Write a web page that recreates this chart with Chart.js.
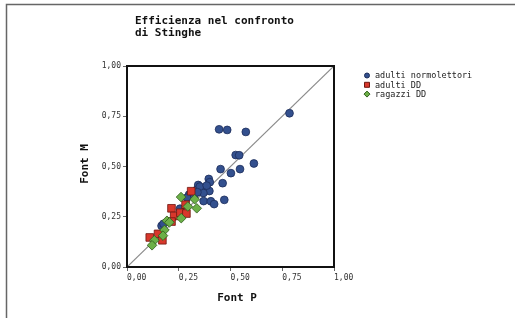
<!DOCTYPE html>
<html>
<head>
<meta charset="utf-8">
<script src="https://cdn.jsdelivr.net/npm/chart.js@4/dist/chart.umd.min.js"></script>
<style>
  html, body { margin: 0; padding: 0; background: #fff; }
  canvas { display: block; }
</style>
</head>
<body>
<canvas id="chart" width="515" height="318"></canvas>
<script>
const titleLines = ['Efficienza nel confronto', 'di Stinghe'];
const xTitle = 'Font P';
const yTitle = 'Font M';
const tickValues = [0, 0.25, 0.5, 0.75, 1];

const seriesNames = ['adulti normolettori', 'adulti DD', 'ragazzi DD'];

// adulti normolettori
const normX = [0.785, 0.445, 0.484, 0.574, 0.525, 0.542, 0.613, 0.452, 0.502, 0.546,
               0.462, 0.395, 0.400, 0.344, 0.358, 0.337, 0.382, 0.398, 0.369, 0.300,
               0.324, 0.470, 0.370, 0.405, 0.421, 0.256, 0.167, 0.352, 0.290, 0.176,
               0.340, 0.385];
const normY = [0.765, 0.685, 0.682, 0.672, 0.557, 0.556, 0.515, 0.487, 0.467, 0.487,
               0.417, 0.438, 0.422, 0.408, 0.395, 0.384, 0.386, 0.378, 0.368, 0.360,
               0.350, 0.334, 0.328, 0.327, 0.313, 0.290, 0.205, 0.400, 0.345, 0.215,
               0.372, 0.405];

// adulti DD
const ddAdX = [0.310, 0.215, 0.283, 0.228, 0.258, 0.287, 0.215, 0.110, 0.150, 0.171];
const ddAdY = [0.377, 0.292, 0.310, 0.254, 0.270, 0.266, 0.226, 0.147, 0.165, 0.133];

// ragazzi DD
const ddRgX = [0.261, 0.327, 0.337, 0.294, 0.262, 0.193, 0.181, 0.174, 0.132, 0.121, 0.205];
const ddRgY = [0.348, 0.337, 0.292, 0.301, 0.243, 0.230, 0.184, 0.156, 0.133, 0.108, 0.222];

// bisettrice
const refX = [0, 1];
const refY = [0, 1];

const toPoints = (xs, ys) => xs.map((x, i) => ({ x, y: ys[i] }));
const fmt = v => v.toFixed(2).replace('.', ',');

const MONO = "'DejaVu Sans Mono', monospace";

const series = [
  { style: 'circle',  radius: 3.9, fill: '#33508e', stroke: '#1d2d5a' },
  { style: 'rect',    radius: 5.4, fill: '#d8382c', stroke: '#6e1710' },
  { style: 'rectRot', radius: 4.8, fill: '#6cb048', stroke: '#2f5c1b' }
];

const extras = {
  id: 'extras',
  afterDraw(chart) {
    const ctx = chart.ctx;
    const a = chart.chartArea;
    ctx.save();

    // outer frame
    ctx.strokeStyle = '#666';
    ctx.lineWidth = 1.5;
    ctx.beginPath();
    ctx.moveTo(6.5, 318);
    ctx.lineTo(6.5, 4.5);
    ctx.lineTo(515, 4.5);
    ctx.stroke();

    // plot box
    ctx.strokeStyle = '#111';
    ctx.lineWidth = 2;
    ctx.strokeRect(a.left, a.top, a.right - a.left, a.bottom - a.top);

    // title
    ctx.fillStyle = '#111';
    ctx.font = 'bold 11px ' + MONO;
    ctx.textAlign = 'left';
    ctx.textBaseline = 'middle';
    titleLines.forEach((t, i) => ctx.fillText(t, 135, 21 + i * 12.5));

    // axis titles
    ctx.textAlign = 'center';
    ctx.fillText(xTitle, 237, 298);
    ctx.save();
    ctx.translate(85, 164);
    ctx.rotate(-Math.PI / 2);
    ctx.fillText(yTitle, 0, 0);
    ctx.restore();

    // legend
    ctx.font = '8.5px ' + MONO;
    ctx.textAlign = 'left';
    seriesNames.forEach((name, i) => {
      const y = 75.5 + i * 9.3;
      const x = 367;
      const s = series[i];
      ctx.fillStyle = s.fill;
      ctx.strokeStyle = s.stroke;
      ctx.lineWidth = 1;
      ctx.beginPath();
      if (s.style === 'circle') {
        ctx.arc(x, y, 2.5, 0, Math.PI * 2);
      } else if (s.style === 'rect') {
        ctx.rect(x - 2.5, y - 2.5, 5, 5);
      } else {
        ctx.moveTo(x, y - 3); ctx.lineTo(x + 3, y); ctx.lineTo(x, y + 3); ctx.lineTo(x - 3, y); ctx.closePath();
      }
      ctx.fill();
      ctx.stroke();
      ctx.fillStyle = '#222';
      ctx.fillText(name, 375, y + 0.5);
    });

    ctx.restore();
  }
};

const scatterSet = (label, xs, ys, s, order) => ({
  type: 'scatter',
  label,
  data: toPoints(xs, ys),
  pointStyle: s.style,
  pointRadius: s.radius,
  pointHoverRadius: s.radius,
  backgroundColor: s.fill,
  borderColor: s.stroke,
  borderWidth: 0.8,
  order
});

const axisCommon = {
  type: 'linear',
  min: 0,
  max: 1,
  afterBuildTicks: scale => { scale.ticks = tickValues.map(v => ({ value: v })); },
  grid: { drawOnChartArea: false, drawTicks: true, tickLength: 4, color: '#666', lineWidth: 1 },
  border: { display: false }
};

new Chart(document.getElementById('chart'), {
  type: 'scatter',
  data: {
    datasets: [
      scatterSet(seriesNames[0], normX, normY, series[0], 3),
      scatterSet(seriesNames[1], ddAdX, ddAdY, series[1], 2),
      scatterSet(seriesNames[2], ddRgX, ddRgY, series[2], 1),
      {
        type: 'line',
        label: 'bisettrice',
        data: toPoints(refX, refY),
        borderColor: '#8a8a8a',
        borderWidth: 1.2,
        pointRadius: 0,
        fill: false,
        order: 4
      }
    ]
  },
  options: {
    responsive: false,
    animation: false,
    devicePixelRatio: 1,
    layout: { padding: { left: 0, top: 66, right: 181, bottom: 0 } },
    plugins: {
      legend: { display: false },
      title: { display: false },
      tooltip: { enabled: false }
    },
    scales: {
      x: {
        ...axisCommon,
        position: 'bottom',
        ticks: {
          align: 'start',
          padding: 2,
          color: '#333',
          font: { family: MONO, size: 8 },
          maxRotation: 0,
          callback: v => fmt(v)
        },
        afterFit: s => { s.height = 51; }
      },
      y: {
        ...axisCommon,
        position: 'left',
        ticks: {
          padding: 2,
          color: '#333',
          font: { family: MONO, size: 8 },
          callback: v => fmt(v)
        },
        afterFit: s => { s.width = 127; }
      }
    }
  },
  plugins: [extras]
});
</script>
</body>
</html>
